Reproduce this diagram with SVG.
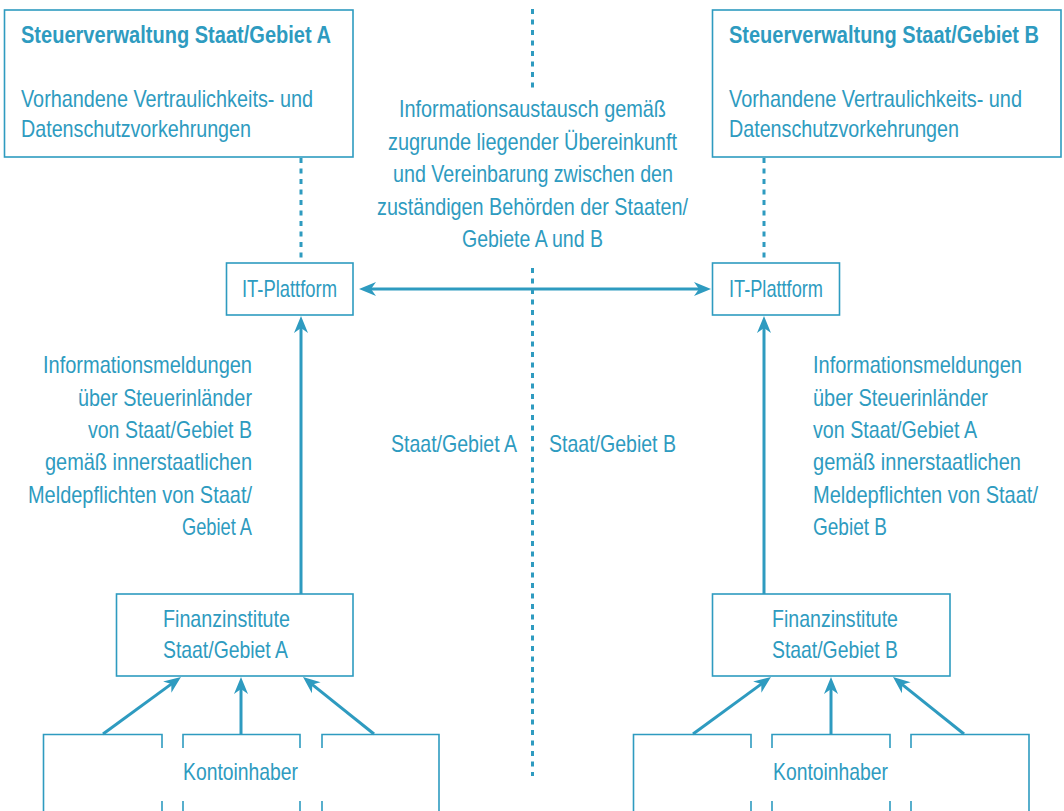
<svg xmlns="http://www.w3.org/2000/svg" width="1064" height="811" viewBox="0 0 1064 811">
  <style>
    .box { fill: #ffffff; stroke: #2e9bc0; stroke-width: 1.6; }
    .edge { fill: none; stroke: #2e9bc0; stroke-width: 1.6; }
    .t { font-family: "Liberation Sans", Arial, sans-serif; font-size: 24px; fill: #2e9bc0; }
    .b { font-weight: bold; font-size: 23px; }
    .arrow { fill: none; stroke: #2e9bc0; stroke-width: 3; }
    .dots { fill: none; stroke: #2e9bc0; stroke-width: 3; stroke-dasharray: 5 5.5; }
  </style>
  <defs>
    <marker id="head" viewBox="-8 -8 19 16" markerWidth="19" markerHeight="16" refX="0" refY="0" orient="auto-start-reverse" markerUnits="userSpaceOnUse">
      <path d="M10,0 L-7,-7 L-2,0 L-7,7 Z" fill="#2e9bc0"/>
    </marker>
  </defs>

  <!-- connectors -->
  <g id="connectors">
    <!-- border between the two jurisdictions -->
    <line class="dots" x1="532.5" y1="9" x2="532.5" y2="88"/>
    <line class="dots" x1="532.5" y1="268" x2="532.5" y2="776"/>
    <!-- tax administration to IT platform -->
    <line class="dots" x1="301" y1="158" x2="301" y2="262"/>
    <line class="dots" x1="764" y1="158" x2="764" y2="262"/>
    <!-- exchange between IT platforms -->
    <line class="arrow" x1="369" y1="289" x2="701" y2="289" marker-start="url(#head)" marker-end="url(#head)"/>
    <!-- reporting by financial institutions -->
    <line class="arrow" x1="301" y1="594" x2="301" y2="326" marker-end="url(#head)"/>
    <line class="arrow" x1="764" y1="594" x2="764" y2="326" marker-end="url(#head)"/>
    <!-- account holders to financial institutions, A -->
    <line class="arrow" x1="103" y1="734" x2="172.9" y2="682.9" marker-end="url(#head)"/>
    <line class="arrow" x1="241" y1="734" x2="241" y2="687" marker-end="url(#head)"/>
    <line class="arrow" x1="374" y1="734" x2="310.8" y2="683.3" marker-end="url(#head)"/>
    <!-- account holders to financial institutions, B -->
    <line class="arrow" x1="693" y1="734" x2="762.9" y2="682.9" marker-end="url(#head)"/>
    <line class="arrow" x1="831" y1="734" x2="831" y2="687" marker-end="url(#head)"/>
    <line class="arrow" x1="964" y1="734" x2="900.8" y2="683.3" marker-end="url(#head)"/>
  </g>

  <!-- all labels are set in a horizontally condensed face: scale(0.8,1), x values given in the condensed space -->

  <!-- tax administration A -->
  <g id="steuerverwaltung-a">
    <rect class="box" x="4.5" y="10" width="348.5" height="147"/>
    <text class="t b" transform="scale(0.8,1)" x="26.25" y="43" textLength="387.5" lengthAdjust="spacingAndGlyphs">Steuerverwaltung Staat/Gebiet A</text>
    <text class="t" transform="scale(0.8,1)" x="26.25" y="107" textLength="365" lengthAdjust="spacingAndGlyphs">Vorhandene Vertraulichkeits- und</text>
    <text class="t" transform="scale(0.8,1)" x="26.25" y="137" textLength="287.5" lengthAdjust="spacingAndGlyphs">Datenschutzvorkehrungen</text>
  </g>

  <!-- tax administration B -->
  <g id="steuerverwaltung-b">
    <rect class="box" x="712.5" y="10" width="348.5" height="147"/>
    <text class="t b" transform="scale(0.8,1)" x="911.25" y="43" textLength="387.5" lengthAdjust="spacingAndGlyphs">Steuerverwaltung Staat/Gebiet B</text>
    <text class="t" transform="scale(0.8,1)" x="911.25" y="107" textLength="366.25" lengthAdjust="spacingAndGlyphs">Vorhandene Vertraulichkeits- und</text>
    <text class="t" transform="scale(0.8,1)" x="911.25" y="137" textLength="287.5" lengthAdjust="spacingAndGlyphs">Datenschutzvorkehrungen</text>
  </g>

  <!-- exchange agreement label -->
  <g id="austausch">
    <text class="t" transform="scale(0.8,1)" x="498.75" y="117" textLength="333.75" lengthAdjust="spacingAndGlyphs">Informationsaustausch gemäß</text>
    <text class="t" transform="scale(0.8,1)" x="485" y="150" textLength="361.25" lengthAdjust="spacingAndGlyphs">zugrunde liegender Übereinkunft</text>
    <text class="t" transform="scale(0.8,1)" x="491.25" y="182" textLength="350" lengthAdjust="spacingAndGlyphs">und Vereinbarung zwischen den</text>
    <text class="t" transform="scale(0.8,1)" x="471.25" y="215" textLength="388.75" lengthAdjust="spacingAndGlyphs">zuständigen Behörden der Staaten/</text>
    <text class="t" transform="scale(0.8,1)" x="577.5" y="247" textLength="176.25" lengthAdjust="spacingAndGlyphs">Gebiete A und B</text>
  </g>

  <!-- IT platforms -->
  <g id="it-plattform-a">
    <rect class="box" x="226.5" y="263" width="126.5" height="52"/>
    <text class="t" transform="scale(0.8,1)" x="302.5" y="297" textLength="118.75" lengthAdjust="spacingAndGlyphs">IT-Plattform</text>
  </g>
  <g id="it-plattform-b">
    <rect class="box" x="712.5" y="263" width="127" height="52"/>
    <text class="t" transform="scale(0.8,1)" x="911.25" y="297" textLength="117.5" lengthAdjust="spacingAndGlyphs">IT-Plattform</text>
  </g>

  <!-- reporting labels -->
  <g id="meldungen-a">
    <text class="t" transform="scale(0.8,1)" x="53.75" y="373" textLength="261.25" lengthAdjust="spacingAndGlyphs">Informationsmeldungen</text>
    <text class="t" transform="scale(0.8,1)" x="97.5" y="406" textLength="217.5" lengthAdjust="spacingAndGlyphs">über Steuerinländer</text>
    <text class="t" transform="scale(0.8,1)" x="110" y="438" textLength="205" lengthAdjust="spacingAndGlyphs">von Staat/Gebiet B</text>
    <text class="t" transform="scale(0.8,1)" x="56.25" y="470" textLength="258.75" lengthAdjust="spacingAndGlyphs">gemäß innerstaatlichen</text>
    <text class="t" transform="scale(0.8,1)" x="35" y="503" textLength="280" lengthAdjust="spacingAndGlyphs">Meldepflichten von Staat/</text>
    <text class="t" transform="scale(0.8,1)" x="227.5" y="535" textLength="87.5" lengthAdjust="spacingAndGlyphs">Gebiet A</text>
  </g>
  <g id="meldungen-b">
    <text class="t" transform="scale(0.8,1)" x="1016.25" y="373" textLength="261.25" lengthAdjust="spacingAndGlyphs">Informationsmeldungen</text>
    <text class="t" transform="scale(0.8,1)" x="1016.25" y="406" textLength="218.75" lengthAdjust="spacingAndGlyphs">über Steuerinländer</text>
    <text class="t" transform="scale(0.8,1)" x="1016.25" y="438" textLength="205" lengthAdjust="spacingAndGlyphs">von Staat/Gebiet A</text>
    <text class="t" transform="scale(0.8,1)" x="1016.25" y="470" textLength="260" lengthAdjust="spacingAndGlyphs">gemäß innerstaatlichen</text>
    <text class="t" transform="scale(0.8,1)" x="1016.25" y="503" textLength="281.25" lengthAdjust="spacingAndGlyphs">Meldepflichten von Staat/</text>
    <text class="t" transform="scale(0.8,1)" x="1016.25" y="535" textLength="92.5" lengthAdjust="spacingAndGlyphs">Gebiet B</text>
  </g>

  <!-- jurisdiction labels -->
  <g id="staat-labels">
    <text class="t" transform="scale(0.8,1)" x="488.75" y="452" textLength="157.5" lengthAdjust="spacingAndGlyphs">Staat/Gebiet A</text>
    <text class="t" transform="scale(0.8,1)" x="686.25" y="452" textLength="158.75" lengthAdjust="spacingAndGlyphs">Staat/Gebiet B</text>
  </g>

  <!-- financial institutions -->
  <g id="finanzinstitute-a">
    <rect class="box" x="116.5" y="594" width="236.5" height="82"/>
    <text class="t" transform="scale(0.8,1)" x="203.75" y="627" textLength="158.75" lengthAdjust="spacingAndGlyphs">Finanzinstitute</text>
    <text class="t" transform="scale(0.8,1)" x="203.75" y="658" textLength="156.25" lengthAdjust="spacingAndGlyphs">Staat/Gebiet A</text>
  </g>
  <g id="finanzinstitute-b">
    <rect class="box" x="712.5" y="594" width="237.5" height="82"/>
    <text class="t" transform="scale(0.8,1)" x="965" y="627" textLength="157.5" lengthAdjust="spacingAndGlyphs">Finanzinstitute</text>
    <text class="t" transform="scale(0.8,1)" x="965" y="658" textLength="157.5" lengthAdjust="spacingAndGlyphs">Staat/Gebiet B</text>
  </g>

  <!-- account holders A: three stacked boxes, inner edges open around the label -->
  <g id="kontoinhaber-a">
    <path class="edge" d="M43.5,812 V734.5 H162 V748 M162,801 V812"/>
    <path class="edge" d="M183,748 V734.5 H300 V748 M183,801 V812 M300,801 V812"/>
    <path class="edge" d="M322,748 V734.5 H439 V812 M322,801 V812"/>
    <text class="t" transform="scale(0.8,1)" x="228.75" y="780" textLength="143.75" lengthAdjust="spacingAndGlyphs">Kontoinhaber</text>
  </g>

  <!-- account holders B -->
  <g id="kontoinhaber-b">
    <path class="edge" d="M633.5,812 V734.5 H751 V748 M751,801 V812"/>
    <path class="edge" d="M772,748 V734.5 H890 V748 M772,801 V812 M890,801 V812"/>
    <path class="edge" d="M911,748 V734.5 H1029 V812 M911,801 V812"/>
    <text class="t" transform="scale(0.8,1)" x="966.25" y="780" textLength="143.75" lengthAdjust="spacingAndGlyphs">Kontoinhaber</text>
  </g>
</svg>
